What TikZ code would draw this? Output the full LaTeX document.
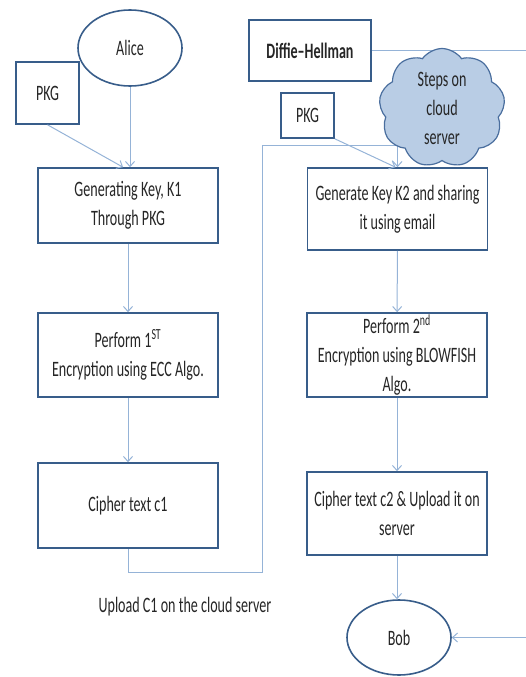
\documentclass[tikz,border=0pt]{standalone}
\usepackage{fontspec}
\setmainfont{Carlito}[FakeStretch=0.64]
\usetikzlibrary{shapes.geometric,shapes.symbols,arrows.meta}
\definecolor{boxblue}{HTML}{385D8A}
\definecolor{linkblue}{HTML}{95B3D7}
\definecolor{cloudfill}{HTML}{B9CDE5}
\definecolor{cloudline}{HTML}{4A6E9E}
\begin{document}
\begin{tikzpicture}[x=1pt, y=-1pt, >={Straight Barb[length=5pt,width=9pt]},
	every node/.style={font=\fontsize{22}{29}\selectfont, text=black!85, align=center, inner sep=0pt},
	stepbox/.style={draw=boxblue, line width=1.6pt, fill=white, minimum width=180pt},
	pkgbox/.style={draw=boxblue, line width=1.6pt, fill=white},
	person/.style={ellipse, draw=boxblue, line width=1.6pt, fill=white, minimum width=104pt, minimum height=76pt},
	link/.style={draw=linkblue, line width=1pt}]
		\clip (0,0) rectangle (526,677);
		%sender side
		\node (alice) at (130,48) [person]{Alice};
		\node (pkgA) at (47.5,93) [pkgbox, minimum width=63pt, minimum height=62pt]{PKG};
		\node (keyA) at (128,205.5) [stepbox, minimum height=75pt]{Generating Key, K1\\Through PKG};
		\node (encA) at (128,355) [stepbox, minimum height=84pt]{Perform 1\textsuperscript{ST}\\Encryption using ECC Algo.};
		\node (ciphA) at (128,505.5) [stepbox, minimum height=85pt]{Cipher text c1};
		\node (upload) at (185,607){Upload C1 on the cloud server};
		
		%cloud side
		\node (dh) at (310,50.5) [pkgbox, minimum width=122pt, minimum height=61pt]{\bfseries Diffie--Hellman};
		\node (pkgB) at (307.5,115.5) [pkgbox, minimum width=53pt, minimum height=45pt]{PKG};
		\node (keyB) at (397.5,209) [stepbox, minimum height=82pt]{Generate Key K2 and sharing\\it using email};
		\node (encB) at (397,355) [stepbox, minimum height=84pt]{Perform 2\textsuperscript{nd}\\Encryption using BLOWFISH\\Algo.};
		\node (ciphB) at (397,513.5) [stepbox, minimum height=83pt]{Cipher text c2 \& Upload it on\\server};
		\node (bob) at (399,637.5) [person, minimum height=75pt]{Bob};
		
		\coordinate (turn) at (262,145);
		\draw[link, ->] (alice) -- (alice |- keyA.north);
		\draw[link, ->] (pkgA.south) -- ([xshift=-5pt]keyA.north);
		\draw[link, ->] (keyA) -- (encA);
		\draw[link, ->] (encA) -- (ciphA);
		\draw[link, ->] (ciphA.south) -- ++(0,24) -| (turn) -| (keyB.north);
		\draw[link, ->] (pkgB.south east) -- ([xshift=-2pt]keyB.north);
		\draw[link, ->] (keyB) -- (encB);
		\draw[link, ->] (encB) -- (ciphB);
		\draw[link, ->] (ciphB.south) -- (ciphB.south |- bob.north);
		\draw[link, ->] (dh.east) -- ++(170,0) |- (bob.east);
		
		\node (cloud) at (442,108) [cloud, cloud puffs=9, cloud puff arc=110, cloud ignores aspect, draw=cloudline, line width=1.2pt, fill=cloudfill, minimum width=126pt, minimum height=119pt]{Steps on\\cloud\\server};
\end{tikzpicture}
\end{document}
